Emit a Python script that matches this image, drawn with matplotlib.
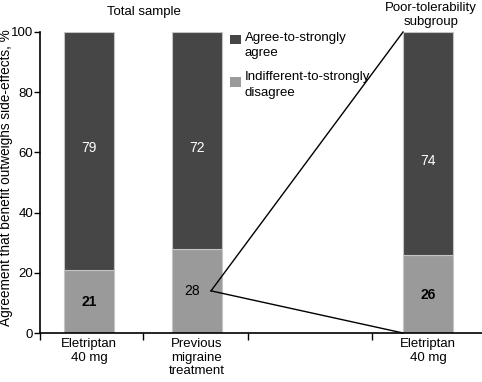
import numpy as np
import matplotlib.pyplot as plt

plt.rcParams['font.family'] = ['Liberation Sans', 'DejaVu Sans']

groups = ["Eletriptan\n40 mg", "Previous\nmigraine\ntreatment", "Eletriptan\n40 mg"]
disagree = [21, 28, 26]
agree = [79, 72, 74]
series_names = ["Agree-to-strongly\nagree", "Indifferent-to-strongly\ndisagree"]

dark = "#464646"
light = "#9a9a9a"

xpos = np.array([0.49, 1.57, 3.88])
width = 0.5

fig = plt.figure(figsize=(4.82, 3.82), dpi=100, facecolor="w")
ax = fig.add_axes([40 / 482, 49 / 382, 442 / 482, 301 / 382])

ax.bar(xpos, disagree, width, color=light, edgecolor="#c4c4c4", lw=0.8, zorder=2)
ax.bar(xpos, agree, width, bottom=disagree, color=dark, edgecolor="#c4c4c4", lw=0.8, zorder=2)

ax.set_xlim(0, 4.42)
ax.set_ylim(0, 100)
ax.spines['right'].set_color('none')
ax.spines['top'].set_color('none')
ax.spines['left'].set_linewidth(1.2)
ax.spines['bottom'].set_linewidth(1.2)
ax.set_yticks([0, 20, 40, 60, 80, 100])
ax.tick_params(axis='y', direction='out', length=4, width=1, labelsize=9.5, pad=1)

ax.set_xticks([0, 1.03, 2.08, 3.32])
ax.set_xticklabels([])
ax.tick_params(axis='x', direction='out', length=5, width=1)
for x, lab in zip(xpos, groups):
    ax.text(x, -1.8, lab, ha="center", va="top", fontsize=9.5, linespacing=1.15)

ax.set_ylabel("Agreement that benefit outweighs side-effects, %", fontsize=9.8)
ax.yaxis.set_label_coords(-26.5 / 442, 0.515)

# value labels
agree_y = [61.5, 61.5, 57]
disagree_y = [10.3, 14, 12.6]
for i, (x, a, ya, yd) in enumerate(zip(xpos, agree, agree_y, disagree_y)):
    d = disagree[i]
    ax.text(x, ya, str(a), ha="center", va="center", color="w", fontsize=10)
    ax.text(x - (0.05 if i == 1 else 0), yd, str(d), ha="center", va="center", color="k",
            fontsize=10, fontweight="normal" if i == 1 else "bold")

# zoom lines from previous treatment's value to the subgroup bar
px, py = 1.71, 14
bx = xpos[2] - width / 2
ax.plot([px, bx], [py, 100], c="k", lw=1, zorder=3, clip_on=False)
ax.plot([px, bx], [py, 0], c="k", lw=1, zorder=3, clip_on=False)

# group titles
fig.text(144 / 482, 1 - 12 / 382, "Total sample", ha="center", va="center", fontsize=9.5)
fig.text(431 / 482, 1 - 15 / 382, "Poor-tolerability\nsubgroup", ha="center", va="center",
         fontsize=9.5, linespacing=1.3)

# legend
for j, (name, c) in enumerate(zip(series_names, [dark, light])):
    ax.bar(1.955, 3.3, 0.11, bottom=[95.85, 81.75][j], color=c, zorder=2)
    ax.text(2.05, [95.5, 82.4][j], name, ha="left", va="center", fontsize=9.5, linespacing=1.35)

plt.savefig("out.png", dpi=100)
